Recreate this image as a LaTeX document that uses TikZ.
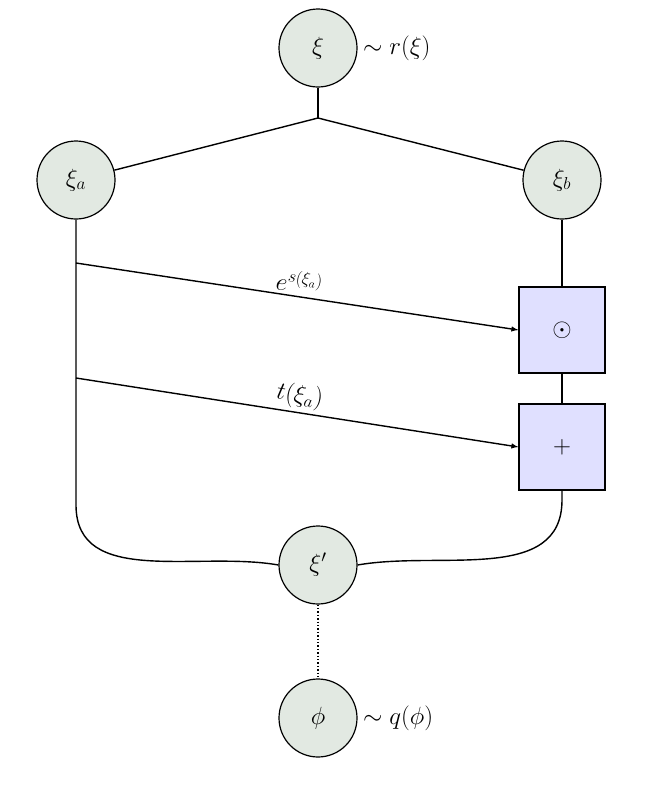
\documentclass[tikz,border=0pt]{standalone}
\usetikzlibrary{positioning}
\tikzset{
  var/.style={circle, draw, line width=1.2pt, fill=green!15!gray!20, minimum size=78pt, inner sep=0pt, font=\fontsize{26}{30}\selectfont},
  op/.style={rectangle, draw, line width=1.2pt, fill=blue!12, minimum size=86pt, inner sep=0pt},
  lbl/.style={font=\fontsize{26}{30}\selectfont},
  edge/.style={line width=1.4pt}
}
\begin{document}
\begin{tikzpicture}[x=1pt, y=-1pt, >=latex]
  \useasboundingbox (0,0) rectangle (665,788);
  \node[var] (xi) at (318,48) {$\xi$};
  \node[lbl, right=2pt of xi] (rxi) {$\sim r(\xi)$};
  \node[var] (xia) at (76,180) {$\xi_a$};
  \node[var] (xib) at (562,180) {$\xi_b$};
  \node[op] (odot) at (562,330) {\fontsize{40}{44}\selectfont$\odot$};
  \node[op] (plus) at (562,447) {\fontsize{50}{54}\selectfont$+$};
  \node[var] (xip) at (318,565) {$\xi'$};
  \node[var] (phi) at (318,718) {$\phi$};
  \node[lbl, right=2pt of phi] (qphi) {$\sim q(\phi)$};
  \coordinate (split) at (318,118);
  \coordinate (s1) at (76,263);
  \coordinate (t1) at (76,378);

  \draw[edge] (xi) -- (split);
  \draw[edge] (split) -- (xia);
  \draw[edge] (split) -- (xib);
  \draw[edge] (xib) -- (odot);
  \draw[edge] (odot) -- (plus);
  \draw[edge] (xia.south) -- (76,505) to[out=-90, in=170] (xip.west);
  \draw[edge] (plus.south) -- (562,500) to[out=-90, in=10] (xip.east);
  \draw[edge, ->] (s1) -- node[lbl, above, sloped] {$e^{s(\xi_a)}$} (odot.west);
  \draw[edge, ->] (t1) -- node[lbl, above, sloped] {$t(\xi_a)$} (plus.west);
  \draw[edge, dotted] (xip) -- (phi);
\end{tikzpicture}
\end{document}
